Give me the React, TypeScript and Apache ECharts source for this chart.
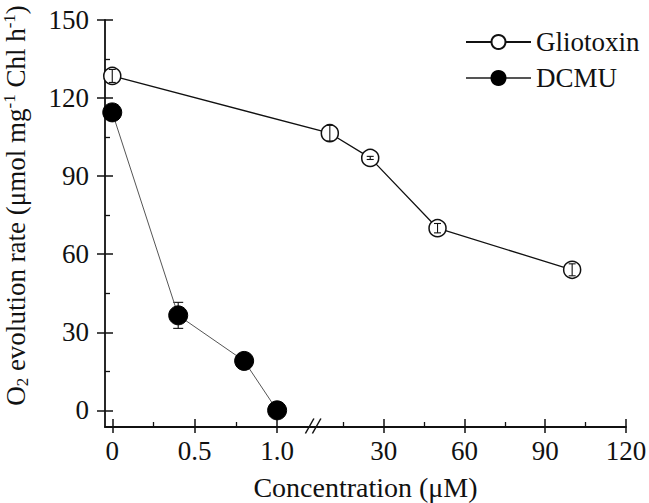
import React, { useEffect, useRef } from "react";
import * as echarts from "echarts";

// ---- data (concentration in µM, O2 evolution rate in µmol mg-1 Chl h-1) ----
const gliotoxinConc = [0, 10, 25, 50, 100];
const gliotoxinRate = [128.5, 106.5, 97, 70, 54];
const gliotoxinErr = [2.5, 3, 0.6, 1.8, 2.3];

const dcmuConc = [0, 0.4, 0.8, 1.0];
const dcmuRate = [114.5, 36.5, 19, 0];
const dcmuErr = [1.5, 5, 1.5, 1];

// ---- axis ticks ----
const xMajorLeft = [0, 0.5, 1.0];
const xMajorLeftLabels = ["0", "0.5", "1.0"];
const xMinorLeft = [0.25, 0.75];
const xMajorRight = [30, 60, 90, 120];
const xMajorRightLabels = ["30", "60", "90", "120"];
const xMinorRight = [15, 45, 75, 105];
const yMajor = [0, 30, 60, 90, 120, 150];
const yMinor = [15, 45, 75, 105, 135];

// ---- broken x axis: low segment [LEFT_MIN, LEFT_MAX], high segment [RIGHT_MIN, RIGHT_MAX] ----
const LEFT_MIN = -0.044;
const LEFT_MAX = 1.22;
const RIGHT_MIN = 3.9;
const RIGHT_MAX = 120;
const LEFT_SHARE = 0.4;

const lowSeg = (c: number) => LEFT_SHARE * (c - LEFT_MIN) / (LEFT_MAX - LEFT_MIN);
const highSeg = (c: number) => LEFT_SHARE + (1 - LEFT_SHARE) * (c - RIGHT_MIN) / (RIGHT_MAX - RIGHT_MIN);
const toBroken = (c: number) => (c <= LEFT_MAX ? lowSeg(c) : highSeg(c));

const majorPos = [...xMajorLeft.map(lowSeg), ...xMajorRight.map(highSeg)];
const majorLabels = [...xMajorLeftLabels, ...xMajorRightLabels];
const minorPos = [...xMinorLeft.map(lowSeg), ...xMinorRight.map(highSeg)];

const FONT = "'Liberation Serif', 'Times New Roman', Times, serif";
const FS = 27;
const INK = "#111";

function errorBars(conc: number[], rate: number[], err: number[]) {
  return conc.map((c, i) => [toBroken(c), rate[i] - err[i], rate[i] + err[i]]);
}

const errRender = (color: string, cap: number) => (params: any, api: any) => {
  const x = api.value(0);
  const lo = api.coord([x, api.value(1)]);
  const hi = api.coord([x, api.value(2)]);
  const style = { stroke: color, lineWidth: 1.1 };
  return {
    type: "group",
    children: [
      { type: "line", shape: { x1: lo[0], y1: lo[1], x2: hi[0], y2: hi[1] }, style },
      { type: "line", shape: { x1: lo[0] - cap, y1: lo[1], x2: lo[0] + cap, y2: lo[1] }, style },
      { type: "line", shape: { x1: hi[0] - cap, y1: hi[1], x2: hi[0] + cap, y2: hi[1] }, style },
    ],
  };
};

export default function App() {
  const ref = useRef<HTMLDivElement>(null);

  useEffect(() => {
    if (!ref.current) return;
    const chart = echarts.init(ref.current, null, { renderer: "svg" });

    const xBase = {
      type: "value",
      min: 0,
      max: 1,
      gridIndex: 0,
      position: "bottom",
      splitLine: { show: false },
    } as any;
    const yBase = {
      type: "value",
      min: -6.4,
      max: 150,
      gridIndex: 0,
      position: "left",
      splitLine: { show: false },
    } as any;

    const option: any = {
      animation: false,
      backgroundColor: "#fff",
      textStyle: { fontFamily: FONT, color: INK },
      grid: { left: 105, right: 23, top: 20, bottom: 76, containLabel: false, outerBoundsMode: "none" },
      legend: {
        orient: "vertical",
        left: 465,
        top: 27,
        padding: 0,
        itemGap: 6,
        itemWidth: 65,
        itemHeight: 17.5,
        textStyle: { fontFamily: FONT, fontSize: FS, color: INK, lineHeight: 30 },
        data: ["Gliotoxin", "DCMU"],
      },
      xAxis: [
        {
          ...xBase,
          name: "Concentration (μM)",
          nameLocation: "middle",
          nameGap: 46,
          nameTextStyle: { fontFamily: FONT, fontSize: 28, color: INK },
          axisLine: { show: true, onZero: false, lineStyle: { color: INK, width: 1.8 } },
          axisTick: { show: true, inside: true, length: 8, customValues: majorPos, lineStyle: { color: INK, width: 1.5 } },
          axisLabel: {
            show: true,
            customValues: majorPos,
            margin: 10,
            fontFamily: FONT,
            fontSize: FS,
            color: INK,
            formatter: (v: number) => {
              let best = 0;
              majorPos.forEach((p, i) => {
                if (Math.abs(p - v) < Math.abs(majorPos[best] - v)) best = i;
              });
              return majorLabels[best];
            },
          },
        },
        {
          ...xBase,
          axisLine: { show: false, onZero: false },
          axisTick: { show: true, inside: false, length: 6, customValues: majorPos, lineStyle: { color: INK, width: 1.5 } },
          axisLabel: { show: false },
        },
        {
          ...xBase,
          axisLine: { show: false, onZero: false },
          axisTick: { show: true, inside: true, length: 5, customValues: minorPos, lineStyle: { color: INK, width: 1.3 } },
          axisLabel: { show: false },
        },
      ],
      yAxis: [
        {
          ...yBase,
          name: "{a|O}{sub|2}{a| evolution rate (μmol mg}{sup|-1}{a| Chl h}{sup|-1}{a|)}",
          nameLocation: "middle",
          nameGap: 74,
          nameRotate: 90,
          nameTextStyle: {
            fontFamily: FONT,
            color: INK,
            padding: [0, 0, 0, 36],
            rich: {
              a: { fontFamily: FONT, fontSize: 27, lineHeight: 30, color: INK },
              sub: { fontFamily: FONT, fontSize: 17, lineHeight: 13, verticalAlign: "bottom", color: INK },
              sup: { fontFamily: FONT, fontSize: 17, lineHeight: 15, verticalAlign: "top", color: INK },
            },
          },
          axisLine: { show: true, onZero: false, lineStyle: { color: INK, width: 1.8 } },
          axisTick: { show: true, inside: true, length: 8, customValues: yMajor, lineStyle: { color: INK, width: 1.5 } },
          axisLabel: {
            show: true,
            customValues: yMajor,
            margin: 16,
            fontFamily: FONT,
            fontSize: FS,
            color: INK,
          },
        },
        {
          ...yBase,
          axisLine: { show: false, onZero: false },
          axisTick: { show: true, inside: false, length: 8, customValues: yMajor, lineStyle: { color: INK, width: 1.5 } },
          axisLabel: { show: false },
        },
        {
          ...yBase,
          axisLine: { show: false, onZero: false },
          axisTick: { show: true, inside: true, length: 5, customValues: yMinor, lineStyle: { color: INK, width: 1.3 } },
          axisLabel: { show: false },
        },
      ],
      series: [
        {
          name: "DCMU-err",
          type: "custom",
          xAxisIndex: 0,
          yAxisIndex: 0,
          z: 1,
          encode: { x: 0, y: [1, 2] },
          renderItem: errRender("#111", 5),
          data: errorBars(dcmuConc, dcmuRate, dcmuErr),
          silent: true,
        },
        {
          name: "DCMU",
          type: "line",
          xAxisIndex: 0,
          yAxisIndex: 0,
          z: 2,
          symbol: "circle",
          symbolSize: 19,
          lineStyle: { color: "#555", width: 1 },
          itemStyle: { color: "#000", borderColor: "#000", borderWidth: 1 },
          data: dcmuConc.map((c, i) => [toBroken(c), dcmuRate[i]]),
        },
        {
          name: "Gliotoxin",
          type: "line",
          xAxisIndex: 0,
          yAxisIndex: 0,
          z: 2,
          symbol: "circle",
          symbolSize: 17,
          lineStyle: { color: "#111", width: 1.3 },
          itemStyle: { color: "#fff", borderColor: "#111", borderWidth: 1.5 },
          data: gliotoxinConc.map((c, i) => [toBroken(c), gliotoxinRate[i]]),
        },
        {
          name: "Gliotoxin-err",
          type: "custom",
          xAxisIndex: 0,
          yAxisIndex: 0,
          z: 3,
          encode: { x: 0, y: [1, 2] },
          renderItem: errRender("#111", 3.5),
          data: errorBars(gliotoxinConc, gliotoxinRate, gliotoxinErr),
          silent: true,
        },
      ],
    };

    chart.setOption(option);

    // axis break marks "//" placed at the break position through the axis scales
    const bx = chart.convertToPixel({ xAxisIndex: 0 }, LEFT_SHARE) as number;
    const by = chart.convertToPixel({ yAxisIndex: 0 }, -6.4) as number;
    const markStyle = { stroke: INK, lineWidth: 1.5 };
    chart.setOption({
      graphic: [
        { type: "line", shape: { x1: bx - 8, y1: by + 6.5, x2: bx + 0.5, y2: by - 8.5 }, style: markStyle, z: 10 },
        { type: "line", shape: { x1: bx - 1, y1: by + 6.5, x2: bx + 7.5, y2: by - 8.5 }, style: markStyle, z: 10 },
      ],
    });

    return () => chart.dispose();
  }, []);

  return (
    <div
      ref={ref}
      style={{ position: "fixed", left: 0, top: 0, width: 649, height: 503, background: "#fff" }}
    />
  );
}
